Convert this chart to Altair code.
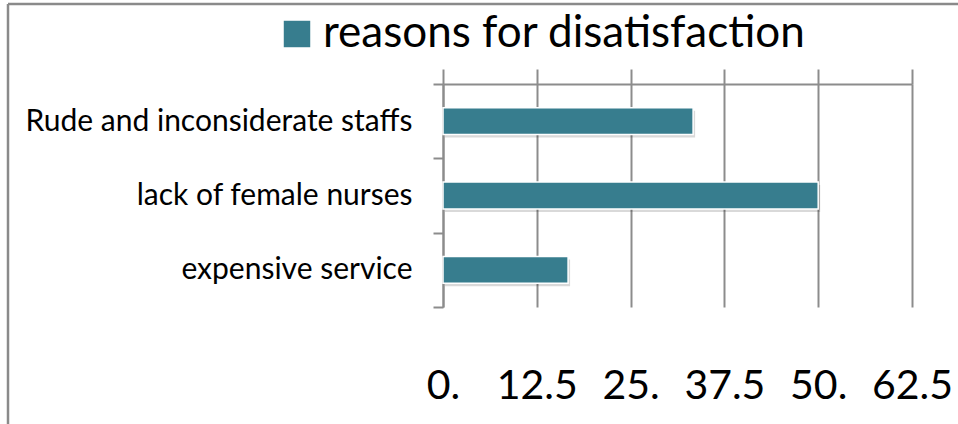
import altair as alt
import pandas as pd

# ---- data ----
categories = ["Rude and inconsiderate staffs", "lack of female nurses", "expensive service"]
values = [33.33, 50.0, 16.67]
series_name = "reasons for disatisfaction"
tick_values = [0, 12.5, 25, 37.5, 50, 62.5]
tick_labels = ["0.", "12.5", "25.", "37.5", "50.", "62.5"]

df = pd.DataFrame({"reason": categories, "value": values, "series": [series_name] * len(categories)})

FONT = "Lato"
TEAL = "#377d8e"
GRID = "#8c8c8c"

label_expr = " : ".join(
    [f"datum.value == {v} ? '{l}'" for v, l in zip(tick_values, tick_labels)]
) + " : datum.label"

x_scale = alt.Scale(domain=[0, 62.5], nice=False, zero=True)
y_scale = alt.Scale(paddingInner=0, paddingOuter=0)

y_axis = alt.Axis(
    title=None,
    orient="left",
    domain=True,
    domainColor=GRID,
    domainWidth=2,
    ticks=True,
    tickBand="extent",
    tickSize=10,
    tickColor=GRID,
    tickWidth=2,
    grid=False,
    labelFont=FONT,
    labelFontSize=30,
    labelColor="black",
    labelPadding=21,
    labelLimit=600,
)

y_enc = alt.Y("reason:N", sort=categories, scale=y_scale, axis=y_axis)

shadow = alt.Chart(df).mark_bar(
    color="#000000", opacity=0.15, height={"band": 0.36}, xOffset=2, yOffset=3
).encode(
    x=alt.X("value:Q", scale=x_scale, axis=None),
    y=y_enc,
)

bars = alt.Chart(df).mark_bar(stroke="white", strokeWidth=1.5, height={"band": 0.36}).encode(
    x=alt.X(
        "value:Q",
        scale=x_scale,
        axis=alt.Axis(
            orient="top",
            values=tick_values,
            title=None,
            labels=False,
            domain=True,
            domainColor=GRID,
            domainWidth=2,
            ticks=True,
            tickSize=15,
            tickColor=GRID,
            tickWidth=2,
            grid=True,
            gridColor=GRID,
            gridWidth=2,
            gridOpacity=1,
        ),
    ),
    y=y_enc,
    color=alt.Color(
        "series:N",
        scale=alt.Scale(range=[TEAL]),
        legend=alt.Legend(
            title=None,
            orient="none",
            legendX=-168,
            legendY=-72,
            symbolType="square",
            symbolSize=700,
            symbolStrokeWidth=0,
            labelFont=FONT,
            labelFontSize=44,
            labelColor="black",
            labelOffset=4,
            padding=0,
            labelLimit=1000,
        ),
    ),
)

bottom_axis = alt.Chart(df).mark_bar(opacity=0).encode(
    x=alt.X(
        "value:Q",
        scale=x_scale,
        axis=alt.Axis(
            orient="bottom",
            values=tick_values,
            title=None,
            labelExpr=label_expr,
            labelFont=FONT,
            labelFontSize=41,
            labelColor="black",
            labelBaseline="alphabetic",
            labelPadding=91,
            labelFlush=False,
            labelOverlap=False,
            domain=False,
            ticks=False,
            grid=False,
        ),
    ),
    y=y_enc,
)

frame_df = pd.DataFrame({"k": [0]})
frame_top = alt.Chart(frame_df).mark_rule(color="#8a8a8a", strokeWidth=2.5, clip=False).encode(
    x=alt.value(-435), x2=alt.value(600), y=alt.value(-80)
)
frame_left = alt.Chart(frame_df).mark_rule(color="#8a8a8a", strokeWidth=2.5, clip=False).encode(
    x=alt.value(-435), y=alt.value(-80), y2=alt.value(400)
)

chart = (
    alt.layer(frame_top, frame_left, shadow, bars, bottom_axis)
    .resolve_axis(x="independent")
    .properties(
        width=469,
        height=223,
        autosize=alt.AutoSizeParams(type="none"),
        padding={"left": 443, "top": 84, "right": 46, "bottom": 117},
        background="white",
    )
    .configure_view(stroke=None)
)

chart.save("out.html", embed_options={"renderer": "svg", "actions": False})
